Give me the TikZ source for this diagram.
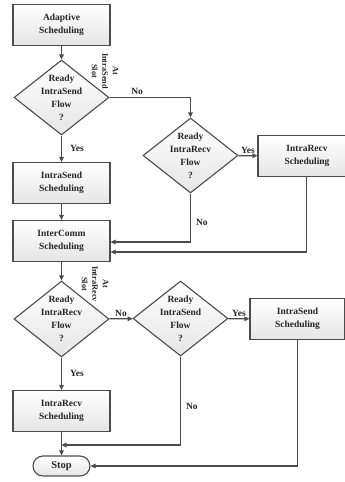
\documentclass[tikz,border=0pt]{standalone}
\usepackage{fontspec}
\setmainfont{Liberation Serif}
\usetikzlibrary{arrows.meta, shapes.geometric}

\tikzset{
    line/.style={draw=black!70, line width=1.1pt},
    arr/.style={line, -{Triangle[length=5pt, width=4.5pt]}},
    txt/.style={font=\bfseries\fontsize{9.5}{13}\selectfont, align=center, text=black!85},
    block/.style={line, txt, rectangle, top color=white, bottom color=black!10, minimum height=41pt, inner sep=0pt},
    decision/.style={line, txt, diamond, top color=white, bottom color=black!10, minimum width=95pt, minimum height=75pt, inner sep=-7pt},
    slotlbl/.style={font=\bfseries\fontsize{8.3}{10.5}\selectfont, align=center, text=black!85, rotate=-90, inner sep=0pt},
    lbl/.style={font=\bfseries\fontsize{9.5}{11}\selectfont, text=black!85, inner sep=2pt}
}

\begin{document}
\begin{tikzpicture}[x=1pt, y=-1pt]
    \useasboundingbox (0, 0) rectangle (345, 482);

    % Top part
    \node[block, minimum width=97pt] (adapt) at (61.5, 25) {Adaptive\\Scheduling};
    \node[decision] (send1) at (61.5, 97.5) {Ready\\IntraSend\\Flow\\?};
    \node[slotlbl] (slot1) at (105, 71) {At\\IntraSend\\Slot};
    \node[decision] (recv1) at (190.5, 155.5) {Ready\\IntraRecv\\Flow\\?};
    \node[block, minimum width=98pt] (recvsch1) at (307, 156) {IntraRecv\\Scheduling};
    \node[block, minimum width=97pt] (sendsch1) at (61.5, 183) {IntraSend\\Scheduling};
    \node[block, minimum width=97pt] (inter) at (61.5, 241) {InterComm\\Scheduling};

    % Bottom part
    \node[decision, minimum height=76pt] (recv2) at (61.5, 319) {Ready\\IntraRecv\\Flow\\?};
    \node[slotlbl] (slot2) at (95, 284) {At\\IntraRecv\\Slot};
    \node[decision] (send2) at (180.5, 318.5) {Ready\\IntraSend\\Flow\\?};
    \node[block, minimum width=95pt] (sendsch2) at (297.5, 319) {IntraSend\\Scheduling};
    \node[block, minimum width=97pt] (recvsch2) at (61.5, 411) {IntraRecv\\Scheduling};
    \node[line, txt, rectangle, rounded corners=10pt, top color=white, bottom color=black!10,
          minimum width=57pt, minimum height=20pt, font=\bfseries\fontsize{10.5}{12}\selectfont] (stop) at (61.5, 466) {Stop};
    \coordinate (join) at (61.5, 445);

    % Connectors, top
    \draw[arr] (adapt) -- (send1);
    \draw[arr] (send1.east) -| (recv1.north) node[lbl, pos=0.17, above] {No};
    \draw[arr] (send1) -- (sendsch1) node[lbl, midway, right, xshift=6pt] {Yes};
    \draw[arr] (recv1) -- (recvsch1) node[lbl, midway, above] {Yes};
    \draw[arr] (recv1.south) |- ([yshift=-1pt]inter.east) node[lbl, pos=0.3, right, xshift=3pt] {No};
    \draw[arr] ([xshift=-0.5pt]recvsch1.south) |- ([yshift=-11pt]inter.east);
    \draw[arr] (sendsch1) -- (inter);

    % Connectors, bottom
    \draw[arr] (inter) -- (recv2);
    \draw[arr] (recv2) -- (send2) node[lbl, midway, above] {No};
    \draw[arr] (send2) -- (sendsch2) node[lbl, midway, above] {Yes};
    \draw[arr] (recv2) -- (recvsch2) node[lbl, midway, right, xshift=6pt] {Yes};
    \draw[arr] (recvsch2) -- (stop);
    \draw[arr] (send2.south) |- (join) node[lbl, pos=0.28, right, xshift=3pt] {No};
    \draw[arr] (sendsch2.south) |- (stop.east);
\end{tikzpicture}
\end{document}
